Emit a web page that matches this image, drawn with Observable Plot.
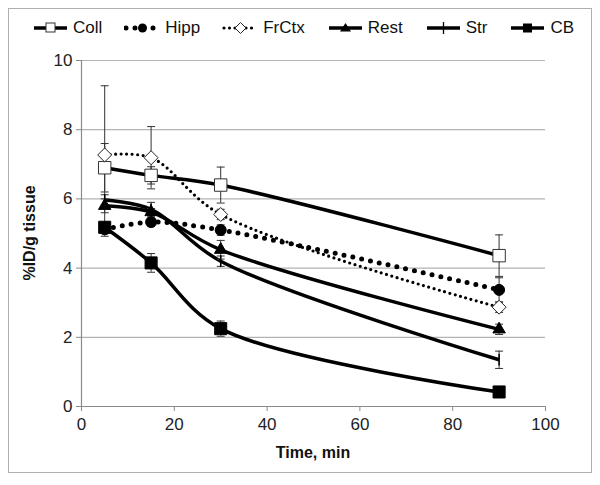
<!DOCTYPE html>
<html><head><meta charset="utf-8">
<script src="https://cdn.jsdelivr.net/npm/d3@7"></script>
<script src="https://cdn.jsdelivr.net/npm/@observablehq/plot@0.6"></script>
<style>
body{margin:0;background:#fff;font-family:"Liberation Sans",Arial,sans-serif;}
#frame{position:relative;width:600px;height:485px;overflow:hidden;}
#border{position:absolute;left:8px;top:8px;width:584px;height:465px;border:1px solid #b0b0b0;box-sizing:border-box;}
#legend{position:absolute;top:18px;left:3px;width:600px;display:flex;justify-content:center;align-items:center;gap:22px;font-size:17px;color:#111;}
#legend .it{display:flex;align-items:center;gap:4px;}
#plot{position:absolute;left:0;top:45px;}
.atitle{position:absolute;font-weight:bold;font-size:16px;color:#111;white-space:nowrap;}
#ylab{left:30px;top:233px;transform:translate(-50%,-50%) rotate(-90deg);}
#xlab{left:313px;top:453px;transform:translate(-50%,-50%);}
</style></head><body>
<div id="frame"><div id="border"></div><div id="legend"></div><div id="plot"></div>
<div id="ylab" class="atitle">%ID/g tissue</div><div id="xlab" class="atitle">Time, min</div></div>
<script>
const times = [5, 15, 30, 90];
const seriesNames = ["Coll", "Hipp", "FrCtx", "Rest", "Str", "CB"];
const coll  = [6.9, 6.68, 6.4, 4.36];
const hipp  = [5.12, 5.33, 5.1, 3.37];
const frctx = [7.27, 7.19, 5.55, 2.87];
const rest  = [5.8, 5.62, 4.53, 2.23];
const str   = [5.97, 5.7, 4.2, 1.35];
const cb    = [5.18, 4.15, 2.25, 0.42];
const collErr  = [0.7, 0.25, 0.52, 0.6];
const hippErr  = [0.2, 0.12, 0.15, 0.35];
const frctxErr = [2.0, 0.9, 0.15, 0.15];
const restErr  = [0.2, 0.1, 0.27, 0.15];
const strErr   = [0.15, 0.2, 0.15, 0.25];
const cbErr    = [0.12, 0.27, 0.22, 0.08];
const xTicks = [0, 20, 40, 60, 80, 100];
const yTicks = [0, 2, 4, 6, 8, 10];

const values = [coll, hipp, frctx, rest, str, cb];
const errs = [collErr, hippErr, frctxErr, restErr, strErr, cbErr];

const vbar = {draw(ctx, size){ const h = Math.sqrt(size)/2; ctx.moveTo(0,-h); ctx.lineTo(0,h); }};
const cap = {draw(ctx, size){ const w = Math.sqrt(size)/2; ctx.moveTo(-w,0); ctx.lineTo(w,0); }};

const styles = {
  Coll:  {w:3.5, dash:null, cap:"butt", symbol:"square", fill:"white", stroke:"#333", r:7},
  Hipp:  {w:5, dash:"0,9", cap:"round", symbol:"circle", fill:"black", stroke:"black", r:5.5},
  FrCtx: {w:3.2, dash:"0,5.5", cap:"round", symbol:"diamond2", fill:"white", stroke:"#222", r:6.3},
  Rest:  {w:3.5, dash:null, cap:"butt", symbol:"triangle", fill:"black", stroke:"black", r:4.6},
  Str:   {w:3.5, dash:null, cap:"butt", symbol:vbar, fill:"none", stroke:"black", r:6.5},
  CB:    {w:3.5, dash:null, cap:"butt", symbol:"square", fill:"black", stroke:"black", r:6.8}
};

const rows = [];
seriesNames.forEach((s, i) => times.forEach((t, j) => rows.push({series:s, time:t, value:values[i][j], err:errs[i][j]})));

const marks = [
  Plot.ruleY(yTicks.filter(d => d > 0), {stroke:"#b3b3b3", strokeWidth:1.2}),
  Plot.ruleX([0], {stroke:"#8a8a8a", strokeWidth:1.2}),
  Plot.ruleY([0], {stroke:"#8a8a8a", strokeWidth:1.2}),
  Plot.axisY({ticks:yTicks, tickSize:5, tickPadding:4, fontSize:17, stroke:"#8a8a8a", label:null}),
  Plot.axisX({ticks:xTicks, tickSize:5, tickPadding:6, fontSize:17, stroke:"#8a8a8a", label:null})
];
seriesNames.forEach(s => {
  const st = styles[s];
  const d = rows.filter(r => r.series === s);
  marks.push(Plot.line(d, {x:"time", y:"value", curve:"catmull-rom", stroke:"black", strokeWidth:st.w,
    strokeDasharray:st.dash || undefined, strokeLinecap:st.cap}));
});
seriesNames.forEach(s => {
  const d = rows.filter(r => r.series === s);
  marks.push(Plot.ruleX(d, {x:"time", y1:r => r.value - r.err, y2:r => r.value + r.err, stroke:"#333", strokeWidth:1}));
  marks.push(Plot.dot(d, {x:"time", y:r => r.value + r.err, symbol:cap, r:4.5, stroke:"#333", strokeWidth:1, fill:"none"}));
  marks.push(Plot.dot(d, {x:"time", y:r => r.value - r.err, symbol:cap, r:4.5, stroke:"#333", strokeWidth:1, fill:"none"}));
});
seriesNames.forEach(s => {
  const st = styles[s];
  const d = rows.filter(r => r.series === s);
  marks.push(Plot.dot(d, {x:"time", y:"value", symbol:st.symbol, r:st.r, fill:st.fill, stroke:st.stroke,
    strokeWidth: s === "Str" ? 1.5 : 1}));
});

const chart = Plot.plot({
  width:600, height:440,
  marginLeft:81, marginRight:55, marginTop:15, marginBottom:79,
  style:{fontFamily:"'Liberation Sans', Arial, sans-serif", color:"#222", background:"transparent"},
  x:{domain:[0,100]},
  y:{domain:[0,10]},
  marks
});
document.getElementById("plot").appendChild(chart);

// legend
const leg = document.getElementById("legend");
const markerSvg = {
  Coll: '<rect x="14" y="5" width="9" height="9" fill="white" stroke="#333"/>',
  Hipp: '<circle cx="18.5" cy="10" r="4.5" fill="black"/>',
  FrCtx: '<path d="M18.5 4.5 L24 10 L18.5 15.5 L13 10Z" fill="white" stroke="#222"/>',
  Rest: '<path d="M18.5 5 L24 13.5 L13 13.5Z" fill="black"/>',
  Str: '<line x1="18.5" x2="18.5" y1="4" y2="16" stroke="black" stroke-width="1.3"/>',
  CB: '<rect x="14" y="5.5" width="9" height="9" fill="black"/>'
};
seriesNames.forEach(s => {
  const st = styles[s];
  const it = document.createElement("div");
  it.className = "it";
  const dash = st.dash ? `stroke-dasharray="${st.dash}" stroke-linecap="round"` : "";
  it.innerHTML = `<svg width="37" height="20"><line x1="2" x2="35" y1="10" y2="10" stroke="black" stroke-width="${st.w}" ${dash}/>${markerSvg[s]}</svg><span>${s}</span>`;
  leg.appendChild(it);
});
</script>
</body></html>
